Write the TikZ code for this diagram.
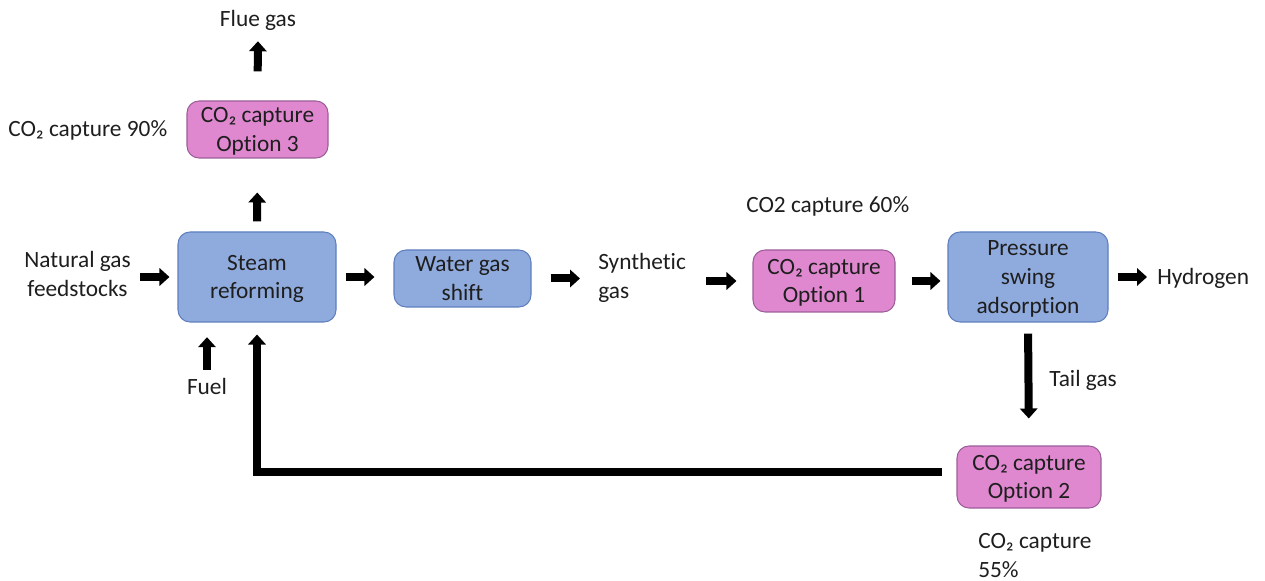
\documentclass[tikz,border=0pt]{standalone}
\usepackage{fontspec}
\setmainfont{Carlito}[Ligatures=NoCommon]
\usetikzlibrary{arrows.meta}
\definecolor{procfill}{HTML}{8FAADC}
\definecolor{procline}{HTML}{5F7FBF}
\definecolor{capfill}{HTML}{DF88D0}
\definecolor{capline}{HTML}{9C5E98}
\definecolor{ink}{HTML}{1E1E1E}
\tikzset{
  box/.style={rounded corners=9pt, align=center, inner sep=0pt, text=ink,
              line width=0.8pt, text depth=0pt},
  procbox/.style={box, fill=procfill, draw=procline},
  capbox/.style={box, fill=capfill, draw=capline},
  lbl/.style={inner sep=0pt, text=ink},
  flow/.style={line width=6pt, draw=black,
               -{Triangle[length=7.5pt, width=13pt]}}
}
\begin{document}
\begin{tikzpicture}[x=0.75pt, y=-0.75pt,
  every node/.append style={font=\fontsize{17.5}{21.5}\selectfont}]
\useasboundingbox (0,0) rectangle (1265,581);

% process units
\node[procbox, minimum width=118.5pt, minimum height=67.5pt] (steam) at (257,277) {Steam\\reforming};
\node[procbox, minimum width=102.75pt, minimum height=42.75pt] (wgs) at (462.5,278.5) {Water gas\\shift};
\node[procbox, minimum width=120pt, minimum height=67.5pt] (psa) at (1028,277) {Pressure\\swing\\adsorption};

% capture options
\node[capbox, minimum width=106.5pt, minimum height=46.5pt] (opt1) at (824,281) {CO₂ capture\\Option 1};
\node[capbox, minimum width=105.75pt, minimum height=42.75pt] (opt3) at (257.5,129.5) {CO₂ capture\\Option 3};
\node[capbox, minimum width=108pt, minimum height=46.5pt] (opt2) at (1029,477) {CO₂ capture\\Option 2};

% streams and notes
\node[lbl, align=center, anchor=east] (ng) at (131,274) {Natural gas\\feedstocks};
\node[lbl, align=left, anchor=west] (syn) at (598,278) {Synthetic\\gas};
\node[lbl, anchor=west] (h2) at (1157,278) {Hydrogen};
\node[lbl, anchor=base] (flue) at (258,27) {Flue gas};
\node[lbl, anchor=base] (fuel) at (207,394) {Fuel};
\node[lbl, anchor=base west] (tail) at (1049,387) {Tail gas};
\node[lbl, anchor=base west] (cc90) at (8,137) {CO₂ capture 90\%};
\node[lbl, anchor=base west] (cc60) at (746,213) {CO2 capture 60\%};
\node[lbl, anchor=base west, align=left] (cc55) at (978,577) {CO₂ capture\\55\%};

% main line
\draw[flow, shorten <=6.75pt, shorten >=6pt] (steam.west -| ng.east) -- (steam.west);
\draw[flow, shorten <=6.75pt, shorten >=14.25pt] (steam.east) -- (steam.east -| wgs.west);
\draw[flow, shorten <=14.25pt, shorten >=13.5pt] (wgs.east) -- (wgs.east -| syn.west);
\draw[flow, shorten <=15pt, shorten >=12pt] (opt1.west -| syn.east) -- (opt1.west);
\draw[flow, shorten <=12pt, shorten >=5.25pt] (opt1.east) -- (opt1.east -| psa.west);
\draw[flow, shorten <=6.75pt, shorten >=7.5pt] (psa.east) -- (psa.east -| h2.west);

% flue gas side
\draw[flow, shorten <=7.5pt, shorten >=25.5pt] (steam.north) -- (opt3.south);
\draw[flow, shorten <=21.75pt, shorten >=7.5pt] (opt3.north) -- (flue.south);

% fuel and tail gas
\draw[flow, shorten <=6pt, shorten >=11pt] (fuel.north) -- (fuel.north |- steam.south);
\draw[flow, shorten <=8.25pt, shorten >=20.25pt] (psa.south) -- (opt2.north);

% tail gas recycle to the reformer
\coordinate (recycle) at (942,472);
\draw[flow, shorten >=9pt] (recycle) -| (steam.south);
\end{tikzpicture}
\end{document}
